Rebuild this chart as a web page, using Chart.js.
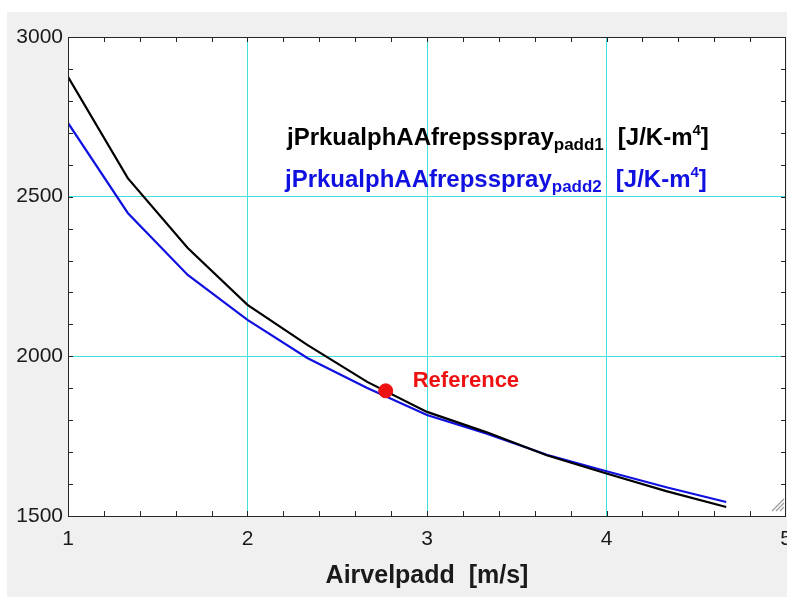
<!DOCTYPE html>
<html>
<head>
<meta charset="utf-8">
<script src="https://cdn.jsdelivr.net/npm/chart.js@4.4.0/dist/chart.umd.min.js"></script>
<style>
  html, body { margin: 0; padding: 0; background: #ffffff; }
  #wrap { position: absolute; left: 7px; top: 12px; width: 780px; height: 585px; background: #f0f0f0; overflow: hidden; }
  canvas { display: block; }
</style>
</head>
<body>
<div id="wrap"><canvas id="c" width="787" height="585"></canvas></div>
<script>
// ---- data ----
const airVel = [1, 1.333, 1.667, 2, 2.333, 2.667, 3, 3.333, 3.667, 4, 4.333, 4.667];
const padd1 = [2875, 2558, 2339, 2161, 2036, 1920, 1826, 1762, 1690, 1633, 1578, 1528];
const padd2 = [2731, 2449, 2255, 2114, 1995, 1901, 1816, 1758, 1692, 1640, 1590, 1544];
const refPoint = [2.77, 1892];
const xTicks = [1, 2, 3, 4, 5];
const yTicks = [1500, 2000, 2500, 3000];
const seriesName = 'jPrkualphAAfrepsspray';
const subs = ['padd1', 'padd2'];
const unitText = '[J/K-m';
const unitSup = '4';
const refLabel = 'Reference';
const xTitle = 'Airvelpadd  [m/s]';

const GRID = '#40e0e0';
const AXIS = '#262626';
const FONT = '"Liberation Sans", Arial, sans-serif';

const toXY = (xs, ys) => xs.map((x, i) => ({ x: x, y: ys[i] }));

const bg = {
  id: 'bg',
  beforeDraw(chart) {
    const a = chart.chartArea, ctx = chart.ctx;
    ctx.save();
    ctx.fillStyle = '#ffffff';
    ctx.fillRect(a.left, a.top, a.right - a.left, a.bottom - a.top);
    ctx.restore();
  }
};

const decor = {
  id: 'decor',
  afterDraw(chart) {
    const ctx = chart.ctx;
    const xs = chart.scales.x, ys = chart.scales.y;
    const a = chart.chartArea;
    ctx.save();
    // minor ticks (inside, all four sides)
    ctx.strokeStyle = AXIS;
    ctx.lineWidth = 1;
    ctx.beginPath();
    for (let v = 1.2; v < 5; v += 0.2) {
      const px = Math.round(xs.getPixelForValue(v)) + 0.5;
      ctx.moveTo(px, a.bottom); ctx.lineTo(px, a.bottom - 5);
      ctx.moveTo(px, a.top); ctx.lineTo(px, a.top + 5);
    }
    for (let v = 1600; v < 3000; v += 100) {
      const py = Math.round(ys.getPixelForValue(v)) + 0.5;
      ctx.moveTo(a.left, py); ctx.lineTo(a.left + 5, py);
      ctx.moveTo(a.right, py); ctx.lineTo(a.right - 5, py);
    }
    ctx.stroke();
    // plot frame
    ctx.strokeRect(a.left + 0.5, a.top + 0.5, a.right - a.left - 1, a.bottom - a.top);

    // series labels
    function seriesLabel(x, y, color, sub) {
      ctx.fillStyle = color;
      ctx.textBaseline = 'alphabetic';
      ctx.textAlign = 'left';
      ctx.font = 'bold 24px ' + FONT;
      ctx.fillText(seriesName, x, y);
      let cx = x + ctx.measureText(seriesName).width;
      ctx.font = 'bold 17px ' + FONT;
      ctx.fillText(sub, cx, y + 5);
      cx += ctx.measureText(sub).width + 14;
      ctx.font = 'bold 24px ' + FONT;
      ctx.fillText(unitText, cx, y);
      cx += ctx.measureText(unitText).width;
      ctx.font = 'bold 15px ' + FONT;
      ctx.fillText(unitSup, cx, y - 10);
      cx += ctx.measureText(unitSup).width;
      ctx.font = 'bold 24px ' + FONT;
      ctx.fillText(']', cx, y);
    }
    seriesLabel(280, 133, '#000000', subs[0]);
    seriesLabel(278, 175, '#1010e0', subs[1]);

    // reference label
    const rx = xs.getPixelForValue(refPoint[0]);
    const ry = ys.getPixelForValue(refPoint[1]);
    ctx.fillStyle = '#ee1111';
    ctx.font = 'bold 22px ' + FONT;
    ctx.fillText(refLabel, rx + 27, ry - 4);

    // window resize grip
    ctx.strokeStyle = '#9a9a9a';
    ctx.lineWidth = 1.2;
    ctx.beginPath();
    const gx = 777, gy = 499;
    for (let k = 0; k < 3; k++) {
      ctx.moveTo(gx - 12 + k * 4, gy);
      ctx.lineTo(gx, gy - 12 + k * 4);
    }
    ctx.stroke();
    ctx.restore();
  }
};

new Chart(document.getElementById('c'), {
  type: 'scatter',
  data: {
    datasets: [
      { data: toXY(airVel, padd1), showLine: true, borderColor: '#000000', borderWidth: 2.2, pointRadius: 0, tension: 0, order: 2 },
      { data: toXY(airVel, padd2), showLine: true, borderColor: '#1010e0', borderWidth: 2.2, pointRadius: 0, tension: 0, order: 3 },
      { data: [{ x: refPoint[0], y: refPoint[1] }], pointRadius: 7, pointBackgroundColor: '#ee1111', pointBorderColor: '#ee1111', order: 1 }
    ]
  },
  options: {
    responsive: false,
    animation: false,
    devicePixelRatio: 1,
    layout: { padding: { top: 25, right: 0, left: 0, bottom: 0 } },
    plugins: { legend: { display: false }, tooltip: { enabled: false } },
    scales: {
      x: {
        type: 'linear', min: 1, max: 5,
        afterBuildTicks: s => { s.ticks = xTicks.map(v => ({ value: v })); },
        afterFit: s => { s.height = 81; s.paddingLeft = 0; s.paddingRight = 0; },
        border: { display: false },
        grid: {
          drawTicks: false,
          color: c => (c.index > 0 && c.index < xTicks.length - 1) ? GRID : 'rgba(0,0,0,0)',
          lineWidth: 1
        },
        ticks: { padding: 11, color: '#1a1a1a', font: { family: FONT, size: 21 }, maxRotation: 0, autoSkip: false, callback: v => String(v) },
        title: { display: true, text: xTitle, color: '#1a1a1a', font: { family: FONT, size: 25, weight: 'bold' }, padding: { top: 0, bottom: 6 } }
      },
      y: {
        type: 'linear', min: 1500, max: 3000,
        afterBuildTicks: s => { s.ticks = yTicks.map(v => ({ value: v })); },
        afterFit: s => { s.width = 61; s.paddingTop = 0; s.paddingBottom = 0; },
        border: { display: false },
        grid: {
          drawTicks: false,
          color: c => (c.index > 0 && c.index < yTicks.length - 1) ? GRID : 'rgba(0,0,0,0)',
          lineWidth: 1
        },
        ticks: { padding: 5, color: '#1a1a1a', font: { family: FONT, size: 21 }, callback: v => String(v) }
      }
    }
  },
  plugins: [bg, decor]
});
</script>
</body>
</html>
